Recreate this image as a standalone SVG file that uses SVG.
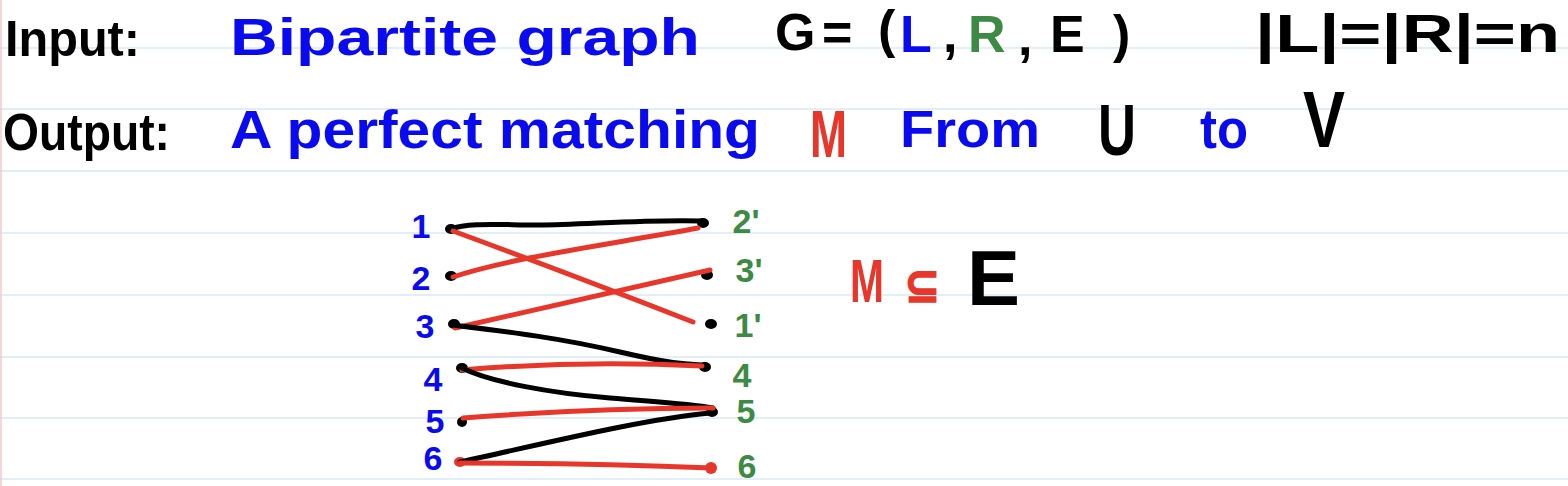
<svg xmlns="http://www.w3.org/2000/svg" width="1568" height="486" viewBox="0 0 1568 486">
<style>
.rule{stroke:#d9e9f6;stroke-width:1.5}
.t{font-family:"Liberation Sans",Arial,sans-serif;font-weight:bold}
.k{fill:#000}
.b{fill:#0a0af0}
.g{fill:#3d8a45}
.r{fill:#e8372a}
.dot{fill:#000}
.e{fill:none;stroke-width:5;stroke-linecap:round;stroke-linejoin:round}
.ek{stroke:#000}
.er{stroke:#e8372a}
.num{font-family:"Liberation Sans",Arial,sans-serif;font-weight:bold;font-size:34px;text-anchor:middle}
</style>
<rect x="0" y="0" width="1568" height="486" fill="#fff"/>
<g id="paper">
<line class="rule" x1="0" y1="48" x2="1568" y2="48"/>
<line class="rule" x1="0" y1="109" x2="1568" y2="109"/>
<line class="rule" x1="0" y1="171" x2="1568" y2="171"/>
<line class="rule" x1="0" y1="233" x2="1568" y2="233"/>
<line class="rule" x1="0" y1="295" x2="1568" y2="295"/>
<line class="rule" x1="0" y1="357" x2="1568" y2="357"/>
<line class="rule" x1="0" y1="418" x2="1568" y2="418"/>
<line class="rule" x1="0" y1="479" x2="1568" y2="479"/>
<line x1="1" y1="0" x2="1" y2="486" stroke="#f3c9cc" stroke-width="1.5"/>
</g>
<g id="line1">
<text class="t k" x="5" y="56" font-size="50" textLength="135" lengthAdjust="spacingAndGlyphs">Input:</text>
<text class="t b" x="230" y="55" font-size="52" textLength="470" lengthAdjust="spacingAndGlyphs">Bipartite graph</text>
<text class="t" font-size="52" y="50"><tspan class="k" x="775">G</tspan><tspan class="k" x="822">=</tspan><tspan class="k" x="878" y="47">(</tspan><tspan class="b" x="900" y="52">L</tspan><tspan class="k" x="943" y="52">,</tspan><tspan class="g" x="968" y="52">R</tspan><tspan class="k" x="1018" y="55">,</tspan><tspan class="k" x="1050" y="52">E</tspan><tspan class="k" x="1113" y="52">)</tspan></text>
<text class="t k" x="1255" y="52" font-size="54" textLength="305" lengthAdjust="spacingAndGlyphs">|L|=|R|=n</text>
</g>
<g id="line2">
<text class="t k" x="3" y="150" font-size="52" textLength="167" lengthAdjust="spacingAndGlyphs">Output:</text>
<text class="t b" x="230" y="148" font-size="54" textLength="530" lengthAdjust="spacingAndGlyphs">A perfect matching</text>
<text class="t r" x="810" y="157" font-size="66" textLength="37" lengthAdjust="spacingAndGlyphs">M</text>
<text class="t b" x="900" y="147" font-size="52" textLength="140" lengthAdjust="spacingAndGlyphs">From</text>
<text class="t k" x="1098" y="155" font-size="72" textLength="38" lengthAdjust="spacingAndGlyphs">U</text>
<text class="t b" x="1200" y="148" font-size="56" textLength="48" lengthAdjust="spacingAndGlyphs">to</text>
<text class="t k" x="1303" y="147" font-size="80" textLength="42" lengthAdjust="spacingAndGlyphs">V</text>
</g>
<g id="subset">
<text class="t r" x="850" y="302" font-size="62" textLength="34" lengthAdjust="spacingAndGlyphs">M</text>
<text class="r" x="904" y="302" font-family="DejaVu Sans,sans-serif" font-weight="bold" font-size="48" stroke="#e8372a" stroke-width="1.5" textLength="36" lengthAdjust="spacingAndGlyphs">⊆</text>
<text class="t k" x="967" y="305" font-size="78" textLength="53" lengthAdjust="spacingAndGlyphs">E</text>
</g>
<g id="L1"><ellipse class="dot" cx="451" cy="229" rx="6" ry="5"/><text class="num b" x="421" y="238">1</text></g>
<g id="L2"><ellipse class="dot" cx="451" cy="276" rx="6" ry="5"/><text class="num b" x="421" y="290">2</text></g>
<g id="L3"><ellipse class="dot" cx="454" cy="324" rx="6" ry="5"/><text class="num b" x="425" y="338">3</text></g>
<g id="L4"><ellipse class="dot" cx="462" cy="368" rx="6" ry="5"/><text class="num b" x="433" y="391" font-size="40">4</text></g>
<g id="L5"><ellipse class="dot" cx="462" cy="422" rx="5" ry="5"/><text class="num b" x="435" y="433" font-size="28">5</text></g>
<g id="L6"><ellipse cx="460" cy="462" rx="6" ry="5" fill="#e8372a"/><text class="num b" x="433" y="470">6</text></g>
<g id="R2"><ellipse class="dot" cx="703" cy="223" rx="6" ry="5"/><text class="num g" x="746" y="233" font-size="32">2'</text></g>
<g id="R3"><ellipse class="dot" cx="707" cy="275" rx="6" ry="5"/><text class="num g" x="749" y="282" font-size="32">3'</text></g>
<g id="R1"><ellipse class="dot" cx="711" cy="324" rx="6" ry="5"/><text class="num g" x="748" y="337" font-size="34">1'</text></g>
<g id="R4"><ellipse class="dot" cx="705" cy="367" rx="6" ry="5"/><text class="num g" x="742" y="387" font-size="38">4</text></g>
<g id="R5"><ellipse class="dot" cx="712" cy="412" rx="6" ry="5"/><text class="num g" x="746" y="423" font-size="30">5</text></g>
<g id="R6"><ellipse cx="711" cy="468" rx="6" ry="6" fill="#e8372a"/><text class="num g" x="747" y="478" font-size="40">6</text></g>
<g id="connectors">
<path class="e ek" d="M450,229 C470,222 500,225 540,225 S650,219 702,221"/>
<path class="e er" d="M453,231 Q570,274 693,322"/>
<path class="e er" d="M453,277 C510,258 600,246 698,228"/>
<path class="e er" d="M455,328 Q580,300 710,270"/>
<path class="e ek" d="M453,325 C510,332 560,338 620,352 S690,364 705,365"/>
<path class="e er" d="M462,370 Q580,360 702,366"/>
<path class="e ek" d="M462,368 C490,382 550,393 610,398 S690,404 713,408"/>
<path class="e er" d="M463,418 Q590,408 713,408"/>
<path class="e ek" d="M460,462 C560,440 640,420 710,413"/>
<path class="e er" d="M460,463 Q590,463 712,468"/>
</g>
</svg>
